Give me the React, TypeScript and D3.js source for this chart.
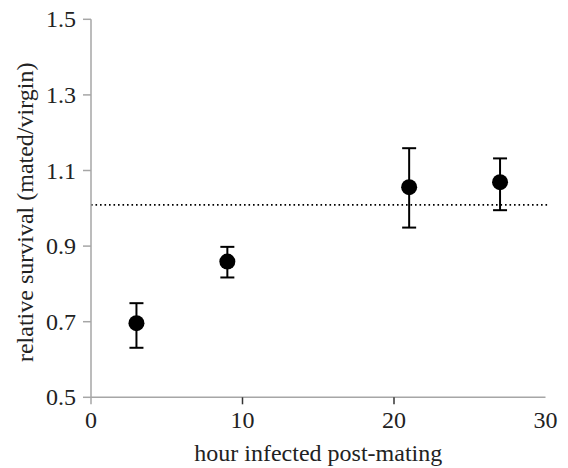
import React from "react";
import * as d3 from "d3";

const hours = [3, 9, 21, 27];
const means = [0.696, 0.859, 1.056, 1.069];
const upper = [0.749, 0.898, 1.159, 1.132];
const lower = [0.631, 0.817, 0.949, 0.995];
const refLine = 1.009;
const xTicks = [0, 10, 20, 30];
const yTicks = [0.5, 0.7, 0.9, 1.1, 1.3, 1.5];

export default function App() {
  const W = 568, H = 468;
  const x = d3.scaleLinear().domain([0, 30]).range([91, 545.5]);
  const y = d3.scaleLinear().domain([0.5, 1.5]).range([397.3, 19.3]);
  const font = "'Liberation Serif', 'Times New Roman', serif";
  const axisColor = "#a6a6a6";
  return (
    <svg width={W} height={H} style={{ position: "absolute", left: 0, top: 0, background: "#fff" }}>
      {/* dotted reference line */}
      <line x1={x(0)} x2={x(30) + 4} y1={y(refLine)} y2={y(refLine)} stroke="#000" strokeWidth={1.6} strokeDasharray="1.6 2.9" />
      {/* axes */}
      <line x1={x(0)} x2={x(0)} y1={y(1.5)} y2={y(0.5) + 7} stroke={axisColor} strokeWidth={1.5} />
      <line x1={x(0)} x2={x(30)} y1={y(0.5)} y2={y(0.5)} stroke={axisColor} strokeWidth={1.5} />
      {yTicks.map((t) => (
        <g key={"y" + t}>
          <line x1={x(0) - 8} x2={x(0)} y1={y(t)} y2={y(t)} stroke={axisColor} strokeWidth={1.5} />
          <text x={x(0) - 15} y={y(t) + 8} textAnchor="end" fontFamily={font} fontSize={24} fill="#222">
            {t.toFixed(1)}
          </text>
        </g>
      ))}
      {xTicks.map((t) => (
        <g key={"x" + t}>
          {t > 0 && t < 30 && (
            <line x1={x(t)} x2={x(t)} y1={y(0.5)} y2={y(0.5) + 7} stroke="#333" strokeWidth={1.5} />
          )}
          <text x={x(t)} y={428} textAnchor="middle" fontFamily={font} fontSize={24} fill="#222">
            {t}
          </text>
        </g>
      ))}
      <text x={(x(0) + x(30)) / 2 + 0} y={461} textAnchor="middle" fontFamily={font} fontSize={24} fill="#222">
        hour infected post-mating
      </text>
      <text
        transform={`translate(33, ${(y(0.5) + y(1.5)) / 2 + 4}) rotate(-90)`}
        textAnchor="middle"
        fontFamily={font}
        fontSize={24}
        fill="#222"
      >
        relative survival (mated/virgin)
      </text>
      {/* error bars and points */}
      {hours.map((h, i) => (
        <g key={"p" + i}>
          <line x1={x(h)} x2={x(h)} y1={y(upper[i])} y2={y(lower[i])} stroke="#000" strokeWidth={2} />
          <line x1={x(h) - 7} x2={x(h) + 7} y1={y(upper[i])} y2={y(upper[i])} stroke="#000" strokeWidth={2} />
          <line x1={x(h) - 7} x2={x(h) + 7} y1={y(lower[i])} y2={y(lower[i])} stroke="#000" strokeWidth={2} />
          <circle cx={x(h)} cy={y(means[i])} r={8} fill="#000" />
        </g>
      ))}
    </svg>
  );
}
